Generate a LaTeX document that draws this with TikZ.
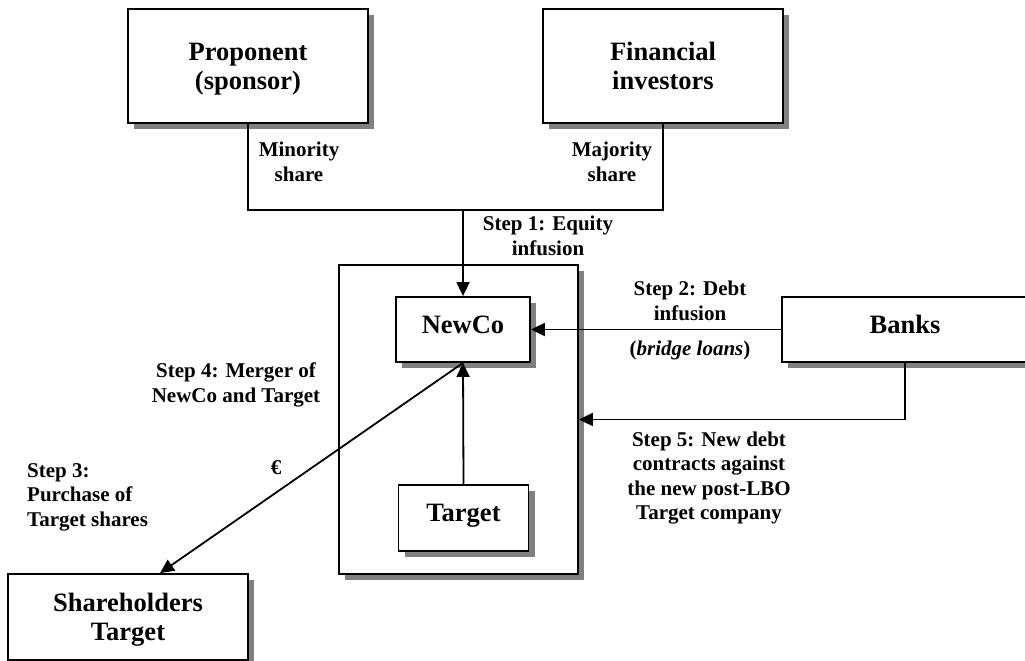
\documentclass[tikz,border=0pt]{standalone}
\usepackage{fontspec}
\setmainfont{Liberation Serif}
\usetikzlibrary{arrows.meta,shadows}
\tikzset{
  box/.style={draw,fill=white,line width=1.8pt,align=center,inner sep=0pt,
    drop shadow={shadow xshift=6pt,shadow yshift=-6pt,fill=gray,opacity=1},
    font=\bfseries\fontsize{26.5}{29}\selectfont},
  oneline/.style={text height=7pt,text depth=0pt},
  twoline/.style={text depth=0pt},
  lbl/.style={align=center,inner sep=0pt,font=\bfseries\fontsize{21}{24.5}\selectfont},
  link/.style={line width=1.8pt},
  arr/.style={line width=1.8pt,-{Triangle[length=14pt,width=13pt]}}
}
\begin{document}
\begin{tikzpicture}[x=1pt,y=-1pt]
\useasboundingbox (0,0) rectangle (1025,661);
% parties
\node [box,twoline,minimum width=240pt,minimum height=114pt] (prop) at (248,66) {Proponent\\(sponsor)};
\node [box,twoline,minimum width=240pt,minimum height=114pt] (fin) at (663,66) {Financial\\investors};
\node [box,minimum width=239pt,minimum height=309pt] (frame) at (458.5,419.5) {};
\node [box,oneline,minimum width=134pt,minimum height=65pt] (newco) at (463,329.5) {NewCo};
\node [box,oneline,minimum width=130pt,minimum height=66pt] (target) at (463.5,518) {Target};
\node [box,oneline,minimum width=246pt,minimum height=65pt] (banks) at (905,329.5) {Banks};
\node [box,twoline,minimum width=240pt,minimum height=86pt] (share) at (128,617) {Shareholders\\Target};
% flows
\coordinate (eq) at (463,210);
\draw [link] (prop.south) |- (eq) -| (fin.south);
\draw [arr] (eq) -- (newco.north);
\draw [arr] (banks.west) -- (newco.east);
\draw [arr] (banks.south) |- (frame.east);
\draw [arr] (target.north) -- (newco.south);
\draw [arr] (newco.south) -- ([xshift=32pt]share.north);
% labels
\node [lbl] (minor) at (299,162) {Minority\\share};
\node [lbl] (major) at (612,162) {Majority\\share};
\node [lbl] (s1) at (548,236) {Step 1: Equity\\infusion};
\node [lbl] (s2) at (690,301) {Step 2: Debt\\infusion};
\node [lbl] (bridge) at (690,350) {(\textit{bridge loans})};
\node [lbl] (s5) at (709,478) {Step 5: New debt\\contracts against\\the new post-LBO\\Target company};
\node [lbl] (s4) at (236,385) {Step 4: Merger of\\NewCo and Target};
\node [lbl,align=left,anchor=west] (s3) at (27,497) {Step 3:\\Purchase of\\Target shares};
\node [lbl] (euro) at (276,468) {€};
\end{tikzpicture}
\end{document}
